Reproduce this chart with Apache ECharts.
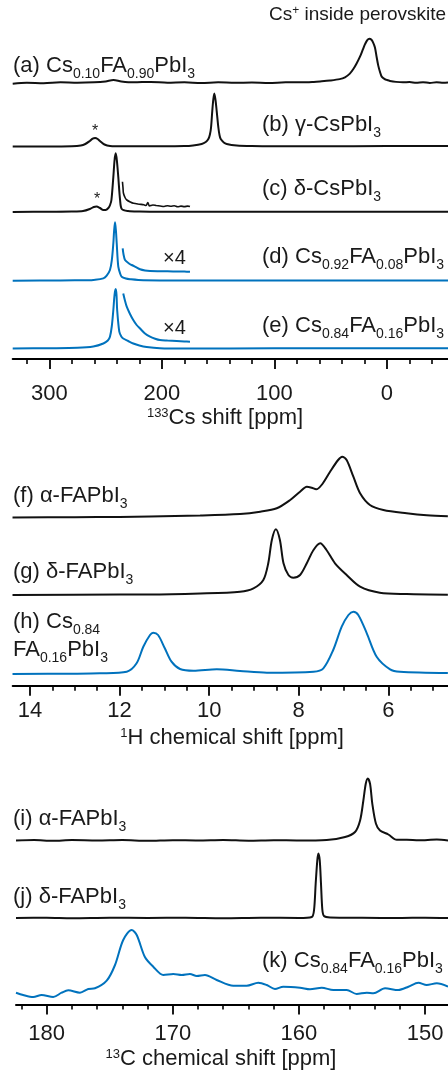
<!DOCTYPE html>
<html><head><meta charset="utf-8">
<script src="https://cdn.jsdelivr.net/npm/echarts@6/dist/echarts.min.js"></script>
<style>html,body{margin:0;padding:0;background:#fff}#c{width:448px;height:1077px}</style>
</head><body><div id="c"></div>
<script>
// ---------- DATA: [chemical shift ppm, intensity a.u.] ----------
const csA = [[332.5,-1],[320,0],[305,-0.5],[290,0.5],[275,0],[260,0.5],[250,1.5],[243,3],[236,1.5],[225,0.5],[210,1],[195,0],[180,0.5],[165,-0.3],[150,0.5],[135,0],[120,0.3],[105,-0.3],[90,0.5],[75,0.5],[65,1],[59.5,1.5],[50.6,2.5],[42,4],[37.3,6],[33,10],[29.9,15],[27,21],[24,28.4],[21.5,36],[19.5,42],[17.5,46.5],[15.7,48],[14,47],[12.4,44],[10.7,38.4],[9.2,28],[7.7,18.4],[6,11],[4.7,6.7],[2,4],[0,3],[-2.7,2],[-8,1],[-14.2,0.5],[-20,0.8],[-26,0],[-32,0.7],[-38,-0.2],[-44,0.6],[-50,0],[-54.2,0.3]];
const csB = [[332.5,0],[300,0],[280,0.3],[272,1],[268,2.5],[264,5.5],[261.5,7.8],[259.3,8.5],[257,7.5],[255,5.5],[251,2],[246,0.5],[235,0.2],[200,0.2],[180,0.4],[172.3,1],[164.6,2.5],[161,4.5],[158.7,7.4],[157.3,12],[156.3,19],[155.2,35.7],[154.3,47],[153.4,53],[152.4,47],[151.3,35.7],[149.8,19],[148.7,11],[147.7,7.4],[145,4],[142.4,2.5],[133.5,1],[120,0.4],[100,0.2],[60,0.2],[0,0.5],[-54.2,0.5]];
const csC = [[332.5,0],[300,0.3],[280,0.5],[270,1],[264,3],[260.5,5],[258,5.5],[255,4],[252,2],[250,2],[247.5,4],[246,7],[244.8,12],[243.1,35],[242,52],[241,58.7],[240,52],[238.7,35],[237.1,12],[235.6,3],[230,1],[220,0.5],[200,0.3],[150,0.3],[100,0.2],[50,0.3],[0,0.2],[-54.2,0.3]];
const csCx4 = [[235,30.3],[234.5,24],[234.1,18.7],[232.5,14],[231.1,12],[228,10],[225.2,8.7],[220,7.8],[216,7.2],[214,6.5],[212.5,9.5],[211,6],[208,7],[205,6.5],[201.5,6],[198,5.5],[195,6.3],[192,5.8],[189,6.2],[186,5.2],[183,5.9],[180,5.4],[177,5.9],[175,5.5]];
const csD = [[332.5,0],[290,0.3],[265,0.5],[260.9,0.7],[252,2.3],[249,5],[246.1,10.7],[244.5,20],[243.1,37.4],[242.4,50],[241.6,58.4],[240.8,50],[240.1,37.4],[238.7,14],[237,7],[235.7,4],[232,2.2],[228.3,1.5],[216.5,0.5],[180,0.3],[100,0.3],[0,0.3],[-54.2,0.3]];
const csDx4 = [[234.8,32.4],[234,26],[232.7,20.7],[229.5,17.5],[226.8,15.7],[223,13.5],[219.4,11.4],[215,10.2],[210.5,9.7],[200,9.5],[190,9.2],[180,9.1],[175,9]];
const csE = [[332.5,0],[300,0.3],[275,0.7],[260.9,2],[252,5],[248,8],[246.1,11.8],[244.5,22],[243.1,38.5],[242,54],[241,59.5],[240.3,54],[239.7,38.5],[237.8,16.8],[236,12],[234.3,10],[230,7.5],[225.4,5],[220,3],[213.5,1.5],[201.7,0.3],[180,0],[100,0.2],[0,0.2],[-54.2,0.2]];
const csEx4 = [[234.3,55],[232.8,48],[231.2,41.8],[228.3,34.5],[225.4,28.5],[222.4,23.5],[219.4,20],[215,15],[210.5,11.8],[206,9.8],[201.7,8.5],[195,8],[186.8,7.5],[180,7.1],[175,6.8]];

const hF = [[14.39,0],[13,0.3],[12,0.5],[11.32,1],[10.2,2],[9.31,3.5],[8.86,5.8],[8.49,9.2],[8.19,17.5],[7.97,25.8],[7.82,30.8],[7.71,29.8],[7.61,28.2],[7.49,32.5],[7.3,45.8],[7.12,57.5],[7.03,60.8],[6.93,57.5],[6.78,40.8],[6.63,24.2],[6.41,12.5],[6.11,7.5],[5.59,4.2],[5.14,2.2],[4.67,1.2]];
const hG = [[14.39,0],[12,0.5],[11.32,0.5],[10.2,1.5],[9.31,3.3],[9.01,6.7],[8.79,15],[8.68,31.7],[8.6,55],[8.51,65.7],[8.42,55],[8.34,31.7],[8.23,20],[8.12,17.3],[7.97,20],[7.82,31.7],[7.67,45],[7.52,51.7],[7.38,45],[7.19,31.7],[6.93,20],[6.63,8.3],[6.19,2.3],[5.59,1],[4.67,0.3]];
const hH = [[14.39,0],[13,0.3],[12.44,0.7],[11.84,2.3],[11.62,10.7],[11.47,27.3],[11.32,39],[11.25,41.3],[11.14,39],[10.99,25.7],[10.84,12.3],[10.65,5],[10.35,3.3],[9.83,4.7],[9.31,3],[8.71,1.3],[7.67,2.3],[7.45,5.7],[7.23,24],[7.04,47.3],[6.89,59],[6.78,62.3],[6.67,59],[6.48,40.7],[6.26,17.3],[5.96,4.7],[5.74,2.3],[4.67,1]];

const cI = [[182.43,0],[181,0.5],[179.5,-0.3],[178,0.4],[176,0],[174,0.5],[172,-0.3],[170,0.3],[168,0],[166,0.5],[164,-0.2],[162,0.3],[160,0],[157.8,0.5],[156.34,3.5],[155.55,8.5],[155.15,20],[154.89,40],[154.7,56.7],[154.54,62],[154.36,56.7],[154.18,36.7],[153.89,16.7],[153.57,10],[152.91,6],[152.24,0.7],[151.45,0.7],[150.5,0.2],[149.07,1],[148.18,0]];
const cJ = [[182.43,0],[180,0.3],[178,-0.2],[175,0.3],[172,0],[169,0.3],[166,-0.2],[163,0.3],[160,0],[158.98,1],[158.8,8],[158.67,34.5],[158.54,57.8],[158.46,64.5],[158.35,57.8],[158.25,34.5],[158.14,8],[158.01,2],[157.53,0.5],[155,0.2],[152,0],[150,0.3],[148.18,0]];
const cK = [[182.43,2.3],[181.86,0],[181.06,-2],[180.4,0],[179.48,-2],[178.81,2.3],[178.29,4.7],[177.36,2.3],[176.7,6],[176.17,6.7],[175.24,14.3],[174.58,30],[173.93,55],[173.26,65],[172.86,60],[172.2,37.7],[171.55,28.3],[170.75,20],[169.96,21],[169.29,20],[168.64,21],[168.1,19],[167.45,20],[166.52,15],[165.2,9.3],[164.14,9.3],[163.22,12.3],[162.55,10],[161.9,6],[161.24,8.3],[159.91,7.3],[159.12,5.7],[158.19,7.3],[157.27,5],[156.21,5],[155.42,1],[154.62,2.3],[154.1,1.7],[153.17,6.7],[152.12,5],[151.32,8.3],[150.53,12.3],[149.87,10],[149.07,11.7],[148.18,8.3]];

// tick values
const csMajor = [300,200,100,0];
const csMinor = [320,280,260,240,220,180,160,140,120,80,60,40,20,-20,-40];
const hMajor = [14,12,10,8,6];
const hMinor = [13.5,13,12.5,11.5,11,10.5,9.5,9,8.5,7.5,7,6.5,5.5,5];
const cMajor = [180,170,160,150];
const cMinor = [182,178,176,174,172,168,166,164,162,158,156,154,152];

// ---------- LAYOUT ----------
const FONT = 'Liberation Sans, Arial, Helvetica, sans-serif';
const TXT = '#1a1a1a';
const K = '#111111', BLUE = '#0072BD';
const panels = [
  {min:-54.2, max:332.5, left:12.7, axisY:359, major:csMajor, minor:csMinor, margin:24},
  {min:4.667, max:14.386, left:12.7, axisY:685.8, major:hMajor, minor:hMinor, margin:14},
  {min:148.18, max:182.43, left:16, axisY:1004.6, major:cMajor, minor:cMinor, margin:18}
];
const traces = [
  {d:csA, p:0, base:82, c:K}, {d:csB, p:0, base:146.5, c:K},
  {d:csC, p:0, base:212, c:K}, {d:csCx4, p:0, base:212, c:K, w:1.6},
  {d:csD, p:0, base:280.7, c:BLUE}, {d:csDx4, p:0, base:280.7, c:BLUE},
  {d:csE, p:0, base:348.5, c:BLUE}, {d:csEx4, p:0, base:348.5, c:BLUE},
  {d:hF, p:1, base:517.5, c:K}, {d:hG, p:1, base:595, c:K}, {d:hH, p:1, base:674, c:BLUE},
  {d:cI, p:2, base:840.5, c:K}, {d:cJ, p:2, base:918, c:K}, {d:cK, p:2, base:995, c:BLUE}
];

const grid = [], xAxis = [], yAxis = [], series = [];
panels.forEach(P => {
  const gi = grid.length;
  grid.push({left:P.left, right:0, top:P.axisY-40, height:40});
  yAxis.push({gridIndex:gi, type:'value', min:0, max:1, show:false});
  xAxis.push({gridIndex:gi, type:'value', min:P.min, max:P.max, inverse:true, position:'bottom',
    axisLine:{show:true, onZero:false, lineStyle:{color:'#000', width:2}},
    axisTick:{show:true, customValues:P.major, length:10, lineStyle:{color:'#000', width:1.8}},
    axisLabel:{show:true, customValues:P.major, margin:P.margin, fontSize:22, color:TXT, fontFamily:FONT},
    splitLine:{show:false}});
  xAxis.push({gridIndex:gi, type:'value', min:P.min, max:P.max, inverse:true, position:'bottom',
    axisLine:{show:false, onZero:false},
    axisTick:{show:true, customValues:P.minor, length:5, lineStyle:{color:'#000', width:1.6}},
    axisLabel:{show:false}, splitLine:{show:false}});
});
traces.forEach(t => {
  const P = panels[t.p];
  const gi = grid.length;
  grid.push({left:P.left, right:0, top:t.base-90, height:100});
  yAxis.push({gridIndex:gi, type:'value', min:-10, max:90, show:false});
  const xi = xAxis.length;
  xAxis.push({gridIndex:gi, type:'value', min:P.min, max:P.max, inverse:true, show:false});
  series.push({type:'line', xAxisIndex:xi, yAxisIndex:yAxis.length-1, data:t.d, symbol:'none',
    smooth:0.3, silent:true, clip:true,
    lineStyle:{color:t.c, width:t.w||2}, itemStyle:{color:t.c}});
});

const rich = {
  m:{fontSize:22, lineHeight:24, verticalAlign:'top', fontFamily:FONT, color:TXT},
  s:{fontSize:14, lineHeight:14, padding:[12,0,0,0], verticalAlign:'top', fontFamily:FONT, color:TXT},
  u:{fontSize:13, lineHeight:14, verticalAlign:'top', fontFamily:FONT, color:TXT},
  n:{fontSize:19, lineHeight:20, verticalAlign:'top', fontFamily:FONT, color:TXT},
  q:{fontSize:12, lineHeight:14, verticalAlign:'top', fontFamily:FONT, color:TXT}
};
const labels = [
  {t:'{n|Cs}{q|+}{n| inside perovskite}', x:269, y:5},
  {t:'{m|(a) Cs}{s|0.10}{m|FA}{s|0.90}{m|PbI}{s|3}', x:13, y:55},
  {t:'{m|(b) γ-CsPbI}{s|3}', x:262, y:114},
  {t:'{m|(c) δ-CsPbI}{s|3}', x:262, y:178},
  {t:'{m|(d) Cs}{s|0.92}{m|FA}{s|0.08}{m|PbI}{s|3}', x:262, y:246},
  {t:'{m|(e) Cs}{s|0.84}{m|FA}{s|0.16}{m|PbI}{s|3}', x:262, y:315},
  {t:'{m|(f) α-FAPbI}{s|3}', x:13, y:485},
  {t:'{m|(g) δ-FAPbI}{s|3}', x:13, y:561},
  {t:'{m|(h) Cs}{s|0.84}', x:13, y:611},
  {t:'{m|FA}{s|0.16}{m|PbI}{s|3}', x:13, y:639},
  {t:'{m|(i) α-FAPbI}{s|3}', x:13, y:808},
  {t:'{m|(j) δ-FAPbI}{s|3}', x:13, y:886},
  {t:'{m|(k) Cs}{s|0.84}{m|FA}{s|0.16}{m|PbI}{s|3}', x:262, y:950},
  {t:'{u|133}{m|Cs shift [ppm]}', x:225, y:407, align:'center'},
  {t:'{u|1}{m|H chemical shift [ppm]}', x:232, y:727, align:'center'},
  {t:'{u|13}{m|C chemical shift [ppm]}', x:221, y:1048, align:'center'}
];
const graphic = labels.map(L => ({type:'text', x:L.x, y:L.y, silent:true,
  style:{text:L.t, rich:rich, align:L.align||'left', verticalAlign:'top', fill:TXT, font:'22px '+FONT}}));
[['×4',163,258],['×4',163,328]].forEach(a => graphic.push({type:'text', x:a[1], y:a[2], silent:true,
  style:{text:a[0], fontSize:20, fontFamily:FONT, fill:TXT, verticalAlign:'middle', align:'left'}}));
[['*',95,132],['*',97,200]].forEach(a => graphic.push({type:'text', x:a[1], y:a[2], silent:true,
  style:{text:a[0], fontSize:16, fontFamily:FONT, fill:TXT, verticalAlign:'middle', align:'center'}}));

const chart = echarts.init(document.getElementById('c'), null, {renderer:'canvas'});
chart.setOption({animation:false, backgroundColor:'#fff', grid, xAxis, yAxis, series, graphic});
</script></body></html>
